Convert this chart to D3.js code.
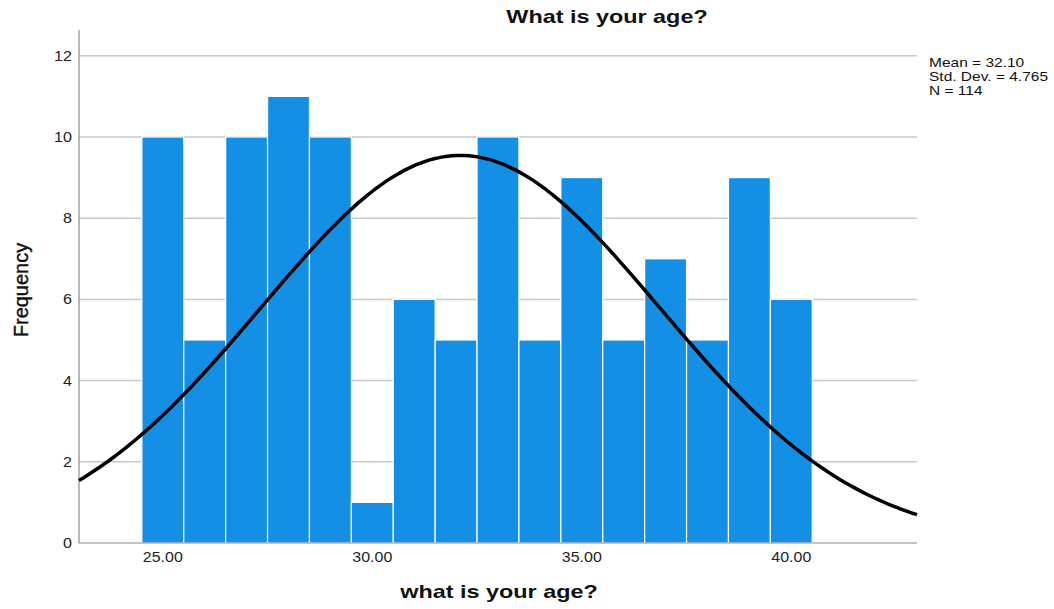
<!DOCTYPE html>
<html>
<head>
<meta charset="utf-8">
<script src="https://cdn.jsdelivr.net/npm/d3@7"></script>
<style>
  html, body { margin: 0; padding: 0; background: #fff; }
  svg { display: block; font-family: "Liberation Sans", Arial, sans-serif; }
</style>
</head>
<body>
<svg id="chart" width="1054" height="609"></svg>
<script>
// Age histogram with fitted normal curve
const ages = [25, 26, 27, 28, 29, 30, 31, 32, 33, 34, 35, 36, 37, 38, 39, 40];
const counts = [10, 5, 10, 11, 10, 1, 6, 5, 10, 5, 9, 5, 7, 5, 9, 6];
const yTicks = [0, 2, 4, 6, 8, 10, 12];
const xTicks = [25, 30, 35, 40];
const stats = { mean: 32.10, sd: 4.765, n: 114 };
const statLines = ["Mean = 32.10", "Std. Dev. = 4.765", "N = 114"];

const svg = d3.select("#chart");
const plotLeft = 79, plotRight = 917, plotTop = 30, plotBottom = 543;

const x = d3.scaleLinear().domain([23, 43]).range([plotLeft, plotRight]);
const y = d3.scaleLinear().domain([0, 12]).range([plotBottom, plotBottom - 12 * 40.6]);

// text placed at (px, py) and widened horizontally by sx
function wideText(g, px, py, sx) {
  return g.append("text").attr("transform", `translate(${px},${py}) scale(${sx},1)`);
}

// gridlines
svg.append("g").selectAll("line")
  .data(yTicks.filter(d => d > 0))
  .join("line")
  .attr("x1", plotLeft).attr("x2", plotRight)
  .attr("y1", d => y(d)).attr("y2", d => y(d))
  .attr("stroke", "#c8c8c8").attr("stroke-width", 1.5);

// bars
const binW = 1;
svg.append("g").selectAll("rect")
  .data(ages.map((a, i) => ({ a, c: counts[i] })))
  .join("rect")
  .attr("x", d => x(d.a - binW / 2))
  .attr("width", d => x(d.a + binW / 2) - x(d.a - binW / 2))
  .attr("y", d => y(d.c))
  .attr("height", d => y(0) - y(d.c))
  .attr("fill", "#1390e6")
  .attr("stroke", "#ffffff")
  .attr("stroke-width", 1.2);

// axis lines
svg.append("line").attr("x1", plotLeft).attr("x2", plotLeft).attr("y1", plotTop).attr("y2", plotBottom)
  .attr("stroke", "#8a8a8a").attr("stroke-width", 1.2);
svg.append("line").attr("x1", plotLeft).attr("x2", plotRight).attr("y1", plotBottom).attr("y2", plotBottom)
  .attr("stroke", "#8a8a8a").attr("stroke-width", 1.2);

// y tick labels
const yLab = svg.append("g");
yTicks.forEach(t => {
  wideText(yLab, plotLeft - 7, y(t) + 5, 1.15)
    .attr("text-anchor", "end")
    .attr("font-size", 14).attr("fill", "#222")
    .text(t);
});

// x tick labels
const xLab = svg.append("g");
xTicks.forEach(t => {
  wideText(xLab, x(t), 562, 1.14)
    .attr("text-anchor", "middle")
    .attr("font-size", 14).attr("fill", "#222")
    .text(d3.format(".2f")(t));
});

// normal curve scaled to counts
const pdf = v => stats.n * binW / (stats.sd * Math.sqrt(2 * Math.PI)) *
  Math.exp(-0.5 * Math.pow((v - stats.mean) / stats.sd, 2));
const pts = d3.range(0, 201).map(i => 23 + i * 0.1);
svg.append("path")
  .datum(pts)
  .attr("d", d3.line().x(d => x(d)).y(d => y(pdf(d))).curve(d3.curveMonotoneX))
  .attr("fill", "none").attr("stroke", "#000").attr("stroke-width", 3.5);

// titles
wideText(svg, 607, 23, 1.3)
  .attr("text-anchor", "middle").attr("font-size", 18).attr("font-weight", "bold")
  .attr("fill", "#111").text("What is your age?");
wideText(svg, 499, 598, 1.3)
  .attr("text-anchor", "middle").attr("font-size", 18).attr("font-weight", "bold")
  .attr("fill", "#111").text("what is your age?");
svg.append("text")
  .attr("transform", "translate(28,290) rotate(-90)")
  .attr("text-anchor", "middle").attr("font-size", 20)
  .attr("fill", "#111").attr("stroke", "#111").attr("stroke-width", 0.4)
  .text("Frequency");

// summary stats
const statG = svg.append("g");
statLines.forEach((s, i) => {
  wideText(statG, 929, 67 + i * 14, 1.24)
    .attr("font-size", 12.5).attr("fill", "#111")
    .text(s);
});
</script>
</body>
</html>
